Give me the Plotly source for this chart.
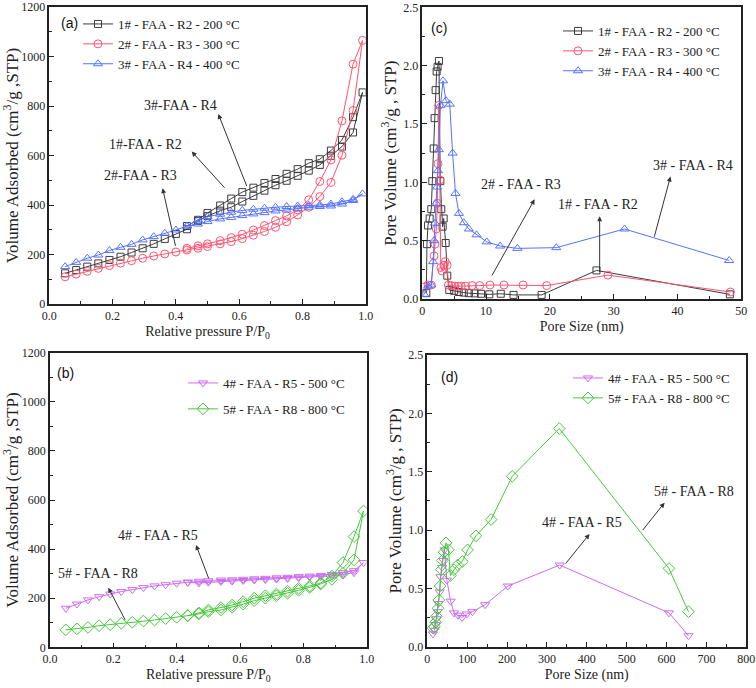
import plotly.graph_objects as go

# ---------------- Panel (a): N2 isotherms (adsorption up, desorption back) -------------
p_ads = [0.05, 0.085, 0.12, 0.155, 0.19, 0.225, 0.26, 0.295, 0.33, 0.365, 0.40, 0.435, 0.47, 0.50,
         0.54, 0.575, 0.61, 0.645, 0.68, 0.715, 0.75, 0.785, 0.82, 0.855, 0.89, 0.925, 0.96, 0.99]
p_des = [0.96, 0.925, 0.89, 0.855, 0.82, 0.785, 0.75, 0.715, 0.68, 0.645, 0.61, 0.575, 0.54, 0.50, 0.47, 0.435]

a1_ads = [124, 137, 151, 164, 178, 191, 208, 225, 243, 263, 283, 302, 335, 355,
          377, 391, 414, 437, 458, 480, 498, 518, 539, 562, 599, 636, 693, 855]
a1_des = [755, 663, 620, 585, 569, 545, 526, 505, 489, 470, 452, 426, 398, 368, 340, 315]

a2_ads = [110, 121, 132, 144, 155, 165, 175, 185, 194, 202, 210, 218, 225, 232,
          243, 252, 264, 278, 293, 310, 332, 360, 391, 434, 491, 601, 782, 1065]
a2_des = [969, 740, 582, 495, 421, 380, 356, 337, 317, 299, 282, 268, 256, 243, 235, 225]

a3_ads = [151, 168, 185, 198, 216, 229, 241, 259, 272, 286, 299, 315, 323, 333,
          344, 350, 357, 364, 369, 376, 380, 386, 391, 394, 396, 404, 418, 445]
a3_des = [423, 413, 404, 400, 399, 396, 394, 391, 387, 383, 378, 371, 363, 353, 340, 315]

# ---------------- Panel (b) -------------
b4_ads = [159, 176, 193, 206, 217, 227, 235, 243, 250, 255, 261, 265, 262, 265,
          268, 270, 272, 274, 276, 278, 280, 283, 286, 288, 291, 297, 304, 345]
b4_des = [312, 304, 297, 293, 290, 288, 285, 283, 281, 279, 277, 275, 274, 271, 269, 265]

b5_ads = [71, 75, 81, 88, 92, 98, 102, 107, 111, 117, 122, 129, 136, 145,
          152, 163, 176, 190, 200, 210, 220, 232, 244, 258, 277, 301, 356, 555]
b5_des = [451, 345, 290, 262, 250, 240, 229, 217, 210, 200, 186, 172, 162, 152, 140, 129]

# ---------------- Panel (c): pore size distribution (nm) -------------
c1_x = [0.63, 0.73, 0.89, 1.15, 1.41, 1.57, 1.78, 1.93, 2.09, 2.25, 2.40, 2.61, 2.82, 2.98, 3.19,
        3.35, 3.66, 3.92, 4.23, 5.0, 5.7, 6.5, 7.3, 8.2, 9.2, 10.5, 12.3, 14.3, 18.7, 27.3, 48.2]
c1_y = [0.05, 0.47, 0.63, 0.69, 0.77, 1.01, 1.29, 1.55, 1.79, 1.95, 1.99, 2.04, 1.01, 0.77, 0.62,
        0.69, 0.48, 0.20, 0.077, 0.07, 0.06, 0.055, 0.05, 0.048, 0.045, 0.04, 0.045, 0.035, 0.035, 0.245, 0.04]

c2_x = [0.37, 0.9, 1.4, 1.85, 2.0, 2.2, 2.35, 2.45, 2.6, 2.75, 2.9, 3.1, 3.4, 3.6, 3.9, 4.1, 4.6,
        5.1, 5.6, 6.1, 6.8, 7.8, 9.0, 10.6, 12.8, 15.8, 19.5, 29.1, 48.3]
c2_y = [0.105, 0.12, 0.12, 0.37, 0.47, 0.6, 0.82, 1.16, 1.66, 1.02, 0.27, 0.24, 0.29, 0.32, 0.29,
        0.12, 0.115, 0.11, 0.11, 0.11, 0.11, 0.115, 0.115, 0.12, 0.12, 0.12, 0.115, 0.205, 0.06]

c3_x = [0.3, 0.9, 1.4, 1.7, 1.85, 2.0, 2.15, 2.3, 2.45, 2.6, 2.85, 3.25, 3.7, 4.3, 4.75, 5.2,
        5.75, 6.5, 7.3, 8.5, 10.1, 12.2, 14.9, 21.0, 31.7, 48.1]
c3_y = [0.04, 0.11, 0.12, 0.32, 0.5, 0.65, 0.82, 0.96, 1.1, 1.28, 1.66, 1.87, 1.70, 1.67, 1.25,
        0.905, 0.734, 0.654, 0.6, 0.55, 0.49, 0.454, 0.434, 0.44, 0.6, 0.33]

# ---------------- Panel (d) -------------
d4_x = [14, 18, 21, 23, 26, 28, 31, 33, 37, 40, 43, 49, 58.5, 67, 77, 87, 99, 113, 145, 202, 332, 606, 655]
d4_y = [0.11, 0.14, 0.19, 0.24, 0.30, 0.37, 0.47, 0.60, 0.68, 0.74, 0.83, 0.57, 0.39, 0.29, 0.27,
        0.25, 0.28, 0.30, 0.36, 0.52, 0.70, 0.29, 0.094]
d5_x = [14, 18, 21, 23, 27, 29, 32, 35, 38, 42, 47, 53, 58, 67, 76, 88, 101, 122, 160, 213, 331, 606, 655]
d5_y = [0.16, 0.17, 0.21, 0.26, 0.33, 0.40, 0.52, 0.66, 0.74, 0.81, 0.89, 0.83, 0.61, 0.66, 0.70,
        0.73, 0.83, 0.95, 1.09, 1.46, 1.87, 0.67, 0.30]

names = ["1# - FAA - R2 - 200 °C", "2# - FAA - R3 - 300 °C", "3# - FAA - R4 - 400 °C",
         "4# - FAA - R5 - 500 °C", "5# - FAA - R8 - 800 °C"]

C1, C2, C3, C4, C5 = "#3c3c3c", "#ff5470", "#5573ff", "#cc6cf0", "#46c83c"
SERIF = "Liberation Serif"
SANS = "Liberation Sans"

fig = go.Figure()


def add(x, y, name, color, symbol, size, xa, ya, legend, group):
    fig.add_trace(go.Scatter(
        x=x, y=y, name=name, mode="lines+markers",
        line=dict(color=color, width=1),
        marker=dict(symbol=symbol, size=size, color=color, line=dict(color=color, width=1)),
        xaxis=xa, yaxis=ya, legend=legend, legendgroup=group))


# (a)
add(p_ads + p_des, a1_ads + a1_des, names[0], C1, "square-open", 7, "x", "y", "legend", "a1")
add(p_ads + p_des, a2_ads + a2_des, names[1], C2, "circle-open", 8, "x", "y", "legend", "a2")
add(p_ads + p_des, a3_ads + a3_des, names[2], C3, "triangle-up-open", 8, "x", "y", "legend", "a3")
# (c)
add(c1_x, c1_y, names[0], C1, "square-open", 7, "x2", "y2", "legend2", "c1")
add(c2_x, c2_y, names[1], C2, "circle-open", 8, "x2", "y2", "legend2", "c2")
add(c3_x, c3_y, names[2], C3, "triangle-up-open", 8, "x2", "y2", "legend2", "c3")
# (b)
add(p_ads + p_des, b4_ads + b4_des, names[3], C4, "triangle-down-open", 8, "x3", "y3", "legend3", "b4")
add(p_ads + p_des, b5_ads + b5_des, names[4], C5, "diamond-open", 9, "x3", "y3", "legend3", "b5")
# (d)
add(d4_x, d4_y, names[3], C4, "triangle-down-open", 8, "x4", "y4", "legend4", "d4")
add(d5_x, d5_y, names[4], C5, "diamond-open", 9, "x4", "y4", "legend4", "d5")

W, H = 756, 688


def dom_x(l, r):
    return [l / W, r / W]


def dom_y(t, b):
    return [1 - b / H, 1 - t / H]


def axis(dom, rng, dtick, minor, title, tfs, standoff, tickfmt=None):
    d = dict(domain=dom, range=rng, dtick=dtick, tick0=0, automargin=False,
             showline=True, mirror=True, linecolor="#222", linewidth=1.5,
             ticks="inside", ticklen=5, tickwidth=1, tickcolor="#222",
             minor=dict(ticks="inside", ticklen=3, tickwidth=1, tickcolor="#222", dtick=minor),
             showgrid=False, zeroline=False,
             tickfont=dict(family=SERIF, size=12, color="#222"),
             title=dict(text=title, font=dict(family=SERIF, size=tfs, color="#222"), standoff=standoff))
    if tickfmt:
        d["tickformat"] = tickfmt
    return d


ytit_v = "Volume Adsorbed (cm<sup>3</sup>/g ,STP)"
ytit_p = "Pore Volume (cm<sup>3</sup>/g , STP)"
xtit_p = "Relative pressure P/P<sub>0</sub>"

fig.update_layout(
    width=W, height=H, margin=dict(l=0, r=0, t=0, b=0),
    paper_bgcolor="white", plot_bgcolor="white",
    font=dict(family=SERIF, color="#222"),
    xaxis=axis(dom_x(49.3, 365.7), [0, 1.0], 0.2, 0.1, xtit_p, 14, 4, ".1f"),
    yaxis=axis(dom_y(7, 304), [0, 1200], 200, 100, ytit_v, 17, 2),
    xaxis2=axis(dom_x(422.3, 741.3), [0, 50], 10, 5, "Pore Size (nm)", 14, 4),
    yaxis2=axis(dom_y(7.3, 299), [0, 2.5], 0.5, 0.25, ytit_p, 17, 2, ".1f"),
    xaxis3=axis(dom_x(50, 366.7), [0, 1.0], 0.2, 0.1, xtit_p, 14, 4, ".1f"),
    yaxis3=axis(dom_y(352.7, 647.3), [0, 1200], 200, 100, ytit_v, 17, 2),
    xaxis4=axis(dom_x(427.3, 746.3), [0, 800], 100, 50, "Pore Size (nm)", 14, 4),
    yaxis4=axis(dom_y(355, 646.7), [0, 2.5], 0.5, 0.25, ytit_p, 17, 2, ".1f"),
)
fig.layout.yaxis2.anchor = "x2"
fig.layout.xaxis2.anchor = "y2"
fig.layout.yaxis3.anchor = "x3"
fig.layout.xaxis3.anchor = "y3"
fig.layout.yaxis4.anchor = "x4"
fig.layout.xaxis4.anchor = "y4"

legfont = dict(family=SERIF, size=13, color="#222")
fig.update_layout(
    legend=dict(x=78 / W, y=1 - 9 / H, xanchor="left", yanchor="top", font=legfont,
                bgcolor="rgba(0,0,0,0)", tracegroupgap=0),
    legend2=dict(x=558 / W, y=1 - 16 / H, xanchor="left", yanchor="top", font=legfont,
                 bgcolor="rgba(0,0,0,0)", tracegroupgap=0),
    legend3=dict(x=183 / W, y=1 - 368 / H, xanchor="left", yanchor="top", font=legfont,
                 bgcolor="rgba(0,0,0,0)", tracegroupgap=6),
    legend4=dict(x=568 / W, y=1 - 363 / H, xanchor="left", yanchor="top", font=legfont,
                 bgcolor="rgba(0,0,0,0)", tracegroupgap=0),
)

ann = []
# panel labels
for lab, xr, yr, xd, yd in [("(a)", "x domain", "y domain", 0.065, 0.945),
                            ("(c)", "x2 domain", "y2 domain", 0.052, 0.928),
                            ("(b)", "x3 domain", "y3 domain", 0.05, 0.932),
                            ("(d)", "x4 domain", "y4 domain", 0.07, 0.926)]:
    ann.append(dict(text=lab, xref=xr, yref=yr, x=xd, y=yd, showarrow=False,
                    xanchor="center", yanchor="middle",
                    font=dict(family=SANS, size=14, color="#111")))

txtfont = dict(family=SERIF, size=14, color="#222")
labels = [
    ("3#-FAA - R4", "x", "y", 0.415, 801),
    ("1#-FAA - R2", "x", "y", 0.305, 643),
    ("2#-FAA - R3", "x", "y", 0.289, 518),
    ("2# - FAA - R3", "x2", "y2", 15.4, 0.983),
    ("1# - FAA - R2", "x2", "y2", 27.5, 0.814),
    ("3# - FAA - R4", "x2", "y2", 42.4, 1.143),
    ("4# - FAA - R5", "x3", "y3", 0.34, 455),
    ("5# - FAA - R8", "x3", "y3", 0.152, 301),
    ("4# - FAA - R5", "x4", "y4", 389, 1.063),
    ("5# - FAA - R8", "x4", "y4", 668, 1.334),
]
for t, xr, yr, xv, yv in labels:
    ann.append(dict(text=t, xref=xr, yref=yr, x=xv, y=yv, showarrow=False,
                    xanchor="center", yanchor="middle", font=txtfont))

arrows = [  # head x, head y, tail x, tail y
    ("x", "y", 0.534, 768, 0.626, 470),
    ("x", "y", 0.45, 616, 0.558, 464),
    ("x", "y", 0.358, 468, 0.40, 229),
    ("x2", "y2", 17.6, 0.854, 10.8, 0.19),
    ("x2", "y2", 27.8, 0.71, 27.8, 0.22),
    ("x2", "y2", 38.9, 1.05, 36.3, 0.52),
    ("x3", "y3", 0.461, 417, 0.503, 274),
    ("x3", "y3", 0.184, 243, 0.24, 105),
    ("x4", "y4", 407, 0.966, 344, 0.70),
    ("x4", "y4", 595, 1.234, 537, 0.986),
]
for xr, yr, hx, hy, tx, ty in arrows:
    ann.append(dict(text="", xref=xr, yref=yr, axref=xr, ayref=yr, x=hx, y=hy, ax=tx, ay=ty,
                    showarrow=True, arrowhead=2, arrowsize=1, arrowwidth=1, arrowcolor="#333"))

fig.update_layout(annotations=ann)
fig.write_html("out.html", config={"displayModeBar": False},
               post_script="document.body.style.margin='0';document.body.style.overflow='hidden';")
